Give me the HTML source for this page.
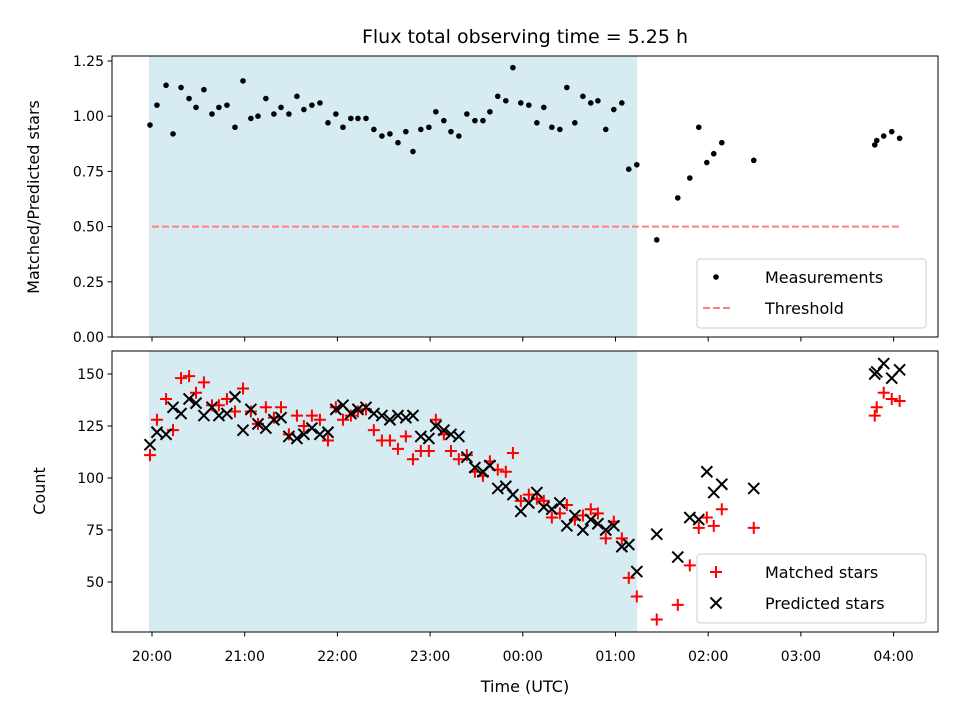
<!DOCTYPE html>
<html><head><meta charset="utf-8"><style>
body{margin:0;background:#fff}
svg text{font-family:"DejaVu Sans","Liberation Sans",sans-serif;fill:#000}
</style></head><body>
<svg id="chart" width="960" height="720" xmlns="http://www.w3.org/2000/svg">
<rect width="960" height="720" fill="#fff"/>
<text x="525" y="43" font-size="19" text-anchor="middle">Flux total observing time = 5.25 h</text>
<g id="top"></g><g id="bot"></g>
<text transform="translate(39,197) rotate(-90)" font-size="16" text-anchor="middle">Matched/Predicted stars</text>
<text transform="translate(45,491) rotate(-90)" font-size="16" text-anchor="middle">Count</text>
<text x="525" y="692" font-size="16" text-anchor="middle">Time (UTC)</text>
</svg>
<script>
const times=[-1.3,3.2,9.1,13.6,18.8,24.0,28.5,33.6,38.8,43.3,48.5,53.7,58.9,64.0,68.6,73.7,78.9,83.5,88.6,93.8,98.3,103.5,108.7,113.9,119.0,123.6,128.7,133.3,138.5,143.6,148.8,154.0,159.2,164.3,168.9,174.0,179.2,183.7,188.9,193.5,198.6,203.8,209.0,214.2,218.7,223.8,229.0,233.6,238.7,243.9,249.1,253.6,258.8,264.0,268.5,273.7,278.9,284.0,288.6,293.7,298.9,304.1,308.6,313.8,326.7,340.3,348.1,353.9,359.1,363.6,368.8,389.5,467.8,469.1,473.6,478.8,483.9];
const ratio=[0.96,1.05,1.14,0.92,1.13,1.08,1.04,1.12,1.01,1.04,1.05,0.95,1.16,0.99,1.00,1.08,1.01,1.04,1.01,1.09,1.03,1.05,1.06,0.97,1.01,0.95,0.99,0.99,0.99,0.94,0.91,0.92,0.88,0.93,0.84,0.94,0.95,1.02,0.98,0.93,0.91,1.01,0.98,0.98,1.02,1.09,1.07,1.22,1.06,1.05,0.97,1.04,0.95,0.94,1.13,0.97,1.09,1.06,1.07,0.94,1.03,1.06,0.76,0.78,0.44,0.63,0.72,0.95,0.79,0.83,0.88,0.80,0.87,0.89,0.91,0.93,0.90];
const predicted=[116,122,121,134,131,138,136,130,134,130,131,139,123,133,126,124,128,129,120,119,121,124,121,122,133,135,131,133,134,131,130,128,130,129,130,120,119,125,123,121,120,110,105,103,106,95,96,92,84,88,93,86,85,88,77,82,75,80,78,75,77,67,68,55,73,62,81,80,103,93,97,95,150,151,155,148,152];
const matched=[111,128,138,123,148,149,141,146,135,135,138,132,143,132,126,134,129,134,121,130,125,130,128,118,134,128,130,132,133,123,118,118,114,120,109,113,113,128,121,113,109,111,103,101,108,104,103,112,89,92,90,89,81,83,87,80,82,85,83,71,79,71,52,43,32,39,58,76,81,77,85,76,130,134,141,138,137];
const xTicks=["20:00","21:00","22:00","23:00","00:00","01:00","02:00","03:00","04:00"];
const topTicks=[0,0.25,0.5,0.75,1.0,1.25];
const botTicks=[50,75,100,125,150];
const threshold=0.5, shadeStart=-2, shadeEnd=314, thrStart=0, thrEnd=484;

const NS="http://www.w3.org/2000/svg";
const X=m=>152+m*92.7/60;
const Yt=v=>337-v*220.8;
const Yb=v=>582-(v-50)*2.08;
function mk(p,tag,at){const e=document.createElementNS(NS,tag);for(const k in at)e.setAttribute(k,at[k]);p.appendChild(e);return e;}
function axes(g,top,bottom,name,ticks,Y,fmt){
  const a=document.createElementNS(NS,'g');g.appendChild(a);
  
  
  const sh=mk(a,'rect',{x:X(shadeStart),y:top,width:X(shadeEnd)-X(shadeStart),height:bottom-top,fill:'#add8e6','fill-opacity':0.5});
  
  
  ticks.forEach(v=>{const y=Y(v);mk(a,'line',{x1:107.5,x2:112,y1:y,y2:y,stroke:'#000','stroke-width':1});
    const t=mk(a,'text',{x:104,y:y+5,'font-size':14,'text-anchor':'end'});t.textContent=fmt(v);
    
    });
  xTicks.forEach((s,i)=>{const x=X(i*60);mk(a,'line',{x1:x,x2:x,y1:bottom,y2:bottom+4.5,stroke:'#000','stroke-width':1});
    if(name==='bottom'){const t=mk(a,'text',{x:x,y:bottom+29,'font-size':14,'text-anchor':'middle'});t.textContent=s;
    
    }});
  return a;
}
const gt=document.getElementById('top'), gb=document.getElementById('bot');
const at=axes(gt,56,337,'top',topTicks,Yt,v=>v.toFixed(2));
const ab=axes(gb,351,632,'bottom',botTicks,Yb,v=>String(v));
const th=mk(at,'line',{x1:X(thrStart),x2:X(thrEnd),y1:Yt(threshold),y2:Yt(threshold),stroke:'#ff7f7f','stroke-width':2,'stroke-dasharray':'7,3'});


times.forEach((m,i)=>{const c=mk(at,'circle',{cx:X(m),cy:Yt(ratio[i]),r:2.8,fill:'#000'});
  
  });
times.forEach((m,i)=>{const x=X(m),y=Yb(matched[i]);
  const p=mk(ab,'path',{d:`M${x-6} ${y}H${x+6}M${x} ${y-6}V${y+6}`,stroke:'#f00','stroke-width':2});
  
  });
times.forEach((m,i)=>{const x=X(m),y=Yb(predicted[i]);
  const p=mk(ab,'path',{d:`M${x-5.5} ${y-5.5}L${x+5.5} ${y+5.5}M${x-5.5} ${y+5.5}L${x+5.5} ${y-5.5}`,stroke:'#000','stroke-width':2});
  
  });
[[at,56,337],[ab,351,632]].forEach(([a,t,b])=>{mk(a,'rect',{x:112,y:t,width:826,height:b-t,fill:'none',stroke:'#000','stroke-width':1});});
function legend(a,name,y0,items){
  const g=document.createElementNS(NS,'g');a.appendChild(g);
  
  
  mk(g,'rect',{x:697,y:y0,width:229,height:69,rx:3,fill:'#fff','fill-opacity':0.8,stroke:'#ccc'});
  items.forEach((it,i)=>{const y=y0+18+i*31;it.draw(g,y);
    const t=mk(g,'text',{x:765,y:y+6,'font-size':16});t.textContent=it.label;
    
    });
}
legend(at,'top-legend',259,[
 {label:'Measurements',draw:(g,y)=>mk(g,'circle',{cx:716,cy:y,r:2.8,fill:'#000'})},
 {label:'Threshold',draw:(g,y)=>mk(g,'line',{x1:703,x2:731,y1:y,y2:y,stroke:'#ff7f7f','stroke-width':2,'stroke-dasharray':'7,3'})}]);
legend(ab,'bottom-legend',554,[
 {label:'Matched stars',draw:(g,y)=>mk(g,'path',{d:`M710 ${y}H722M716 ${y-6}V${y+6}`,stroke:'#f00','stroke-width':2})},
 {label:'Predicted stars',draw:(g,y)=>mk(g,'path',{d:`M710.5 ${y-5.5}L721.5 ${y+5.5}M710.5 ${y+5.5}L721.5 ${y-5.5}`,stroke:'#000','stroke-width':2})}]);
</script>
</body></html>
